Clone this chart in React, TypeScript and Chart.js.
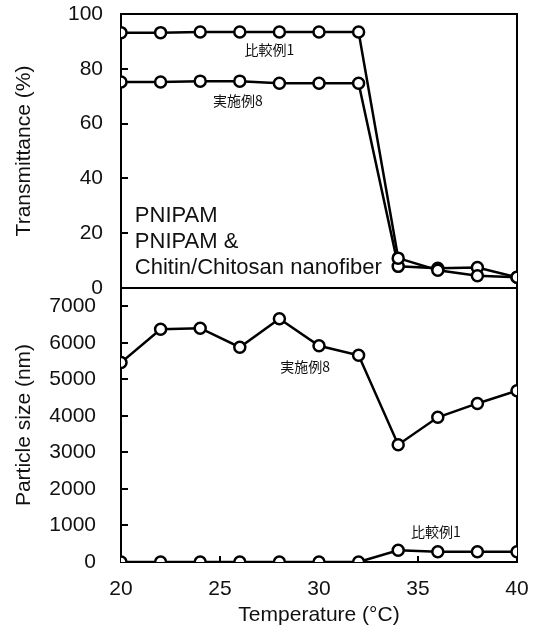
import React, { useEffect, useRef } from 'react';
import { Chart, registerables } from 'chart.js';

Chart.register(...registerables);

// ---- data ----
const temperatures = [20, 22, 24, 26, 28, 30, 32, 34, 36, 38, 40];
const transComparative1 = [93.2, 93.2, 93.4, 93.4, 93.4, 93.4, 93.4, 10.9, 6.5, 4.5, 3.9];
const transExample8 = [75.2, 75.2, 75.5, 75.5, 74.7, 74.7, 74.7, 7.9, 7.2, 7.5, 3.9];
const sizeExample8 = [5460, 6370, 6400, 5880, 6660, 5920, 5660, 3210, 3960, 4340, 4690];
const sizeComparative1 = [0, 0, 0, 0, 0, 0, 0, 320, 280, 280, 280];

const xTickValues = [20, 25, 30, 35, 40];
const transTickValues = [0, 20, 40, 60, 80, 100];
const sizeTickValues = [0, 1000, 2000, 3000, 4000, 5000, 6000, 7000];

const legendLines = ['PNIPAM', 'PNIPAM &', 'Chitin/Chitosan nanofiber'];
const nameComparative = '比較例1';
const nameExample = '実施例8';

// text annotations anchored in data space
const seriesLabels = [
  { text: nameComparative, axis: 'yT', x: 27.5, y: 87 },
  { text: nameExample, axis: 'yT', x: 25.9, y: 68.2 },
  { text: nameExample, axis: 'yB', x: 29.3, y: 5350 },
  { text: nameComparative, axis: 'yB', x: 35.9, y: 830 },
];
const legendAnchor = { x: 20.7, y: 26.3 };

const FONT = '"Liberation Sans", Arial, Helvetica, sans-serif';
const CJK = '"Noto Sans CJK JP", "Noto Sans CJK SC", sans-serif';
const INK = '#111';

const toPoints = (ys: number[]) => temperatures.map((t, i) => ({ x: t, y: ys[i] }));

const lineStyle = {
  borderColor: '#000',
  borderWidth: 2.5,
  pointRadius: 5.5,
  pointBorderWidth: 2.5,
  pointBackgroundColor: '#fff',
  pointBorderColor: '#000',
  tension: 0,
  xAxisID: 'x',
};

const zeroPad = (s: any) => {
  s.paddingTop = 0;
  s.paddingBottom = 0;
  s.paddingLeft = 0;
  s.paddingRight = 0;
};

const framePlugin = {
  id: 'frame',
  beforeDatasetsDraw(chart: any) {
    const { ctx, chartArea: a, scales } = chart;
    const yT = scales.yT;
    const yB = scales.yB;
    const xs = scales.x;
    ctx.save();
    ctx.strokeStyle = '#000';
    ctx.lineWidth = 2;
    ctx.strokeRect(a.left, a.top, a.right - a.left, a.bottom - a.top);
    ctx.beginPath();
    ctx.moveTo(a.left, yT.bottom);
    ctx.lineTo(a.right, yT.bottom);
    ctx.stroke();
    ctx.beginPath();
    for (const s of [yT, yB]) {
      for (const t of s.ticks) {
        const py = Math.round(s.getPixelForValue(t.value));
        ctx.moveTo(a.left, py);
        ctx.lineTo(a.left + 7, py);
      }
    }
    for (const t of xs.ticks) {
      const px = Math.round(xs.getPixelForValue(t.value));
      ctx.moveTo(px, a.bottom);
      ctx.lineTo(px, a.bottom - 6);
    }
    ctx.stroke();
    ctx.restore();
  },
  afterDatasetsDraw(chart: any) {
    const { ctx, scales } = chart;
    const xs = scales.x;
    ctx.save();
    ctx.fillStyle = INK;
    ctx.textAlign = 'center';
    ctx.textBaseline = 'middle';
    ctx.font = `14px ${CJK}`;
    for (const l of seriesLabels) {
      ctx.fillText(l.text, xs.getPixelForValue(l.x), scales[l.axis].getPixelForValue(l.y));
    }
    ctx.textAlign = 'left';
    ctx.font = `22px ${FONT}`;
    const lx = xs.getPixelForValue(legendAnchor.x);
    const ly = scales.yT.getPixelForValue(legendAnchor.y);
    legendLines.forEach((line, i) => ctx.fillText(line, lx, ly + i * 26));
    ctx.restore();
  },
};

export default function App() {
  const ref = useRef<HTMLCanvasElement | null>(null);

  useEffect(() => {
    if (!ref.current) return;
    const tickFont = { family: FONT, size: 21 };
    const plain = (v: any) => String(v);
    const chart = new Chart(ref.current, {
      type: 'line',
      data: {
        datasets: [
          { ...lineStyle, label: nameComparative, yAxisID: 'yT', data: toPoints(transComparative1) },
          { ...lineStyle, label: nameExample, yAxisID: 'yT', data: toPoints(transExample8) },
          { ...lineStyle, label: nameExample, yAxisID: 'yB', data: toPoints(sizeExample8) },
          { ...lineStyle, label: nameComparative, yAxisID: 'yB', data: toPoints(sizeComparative1) },
        ],
      },
      options: {
        responsive: false,
        animation: false,
        layout: { padding: { top: 14, right: 17, left: 0, bottom: 0 } },
        plugins: { legend: { display: false }, tooltip: { enabled: false } },
        scales: {
          x: {
            type: 'linear',
            position: 'bottom',
            min: 20,
            max: 40,
            grid: { display: false, drawTicks: false },
            border: { display: false },
            ticks: { font: tickFont, color: INK, padding: 15, maxRotation: 0, callback: plain },
            afterBuildTicks: (s: any) => { s.ticks = xTickValues.map((v) => ({ value: v })); },
            afterFit: (s: any) => { s.height = 73; zeroPad(s); },
            title: {
              display: true,
              text: 'Temperature (°C)',
              font: { family: FONT, size: 21 },
              color: INK,
              padding: { top: 0, bottom: 7 },
            },
          },
          yB: {
            type: 'linear',
            position: 'left',
            stack: 'v',
            stackWeight: 1,
            min: 0,
            max: 7500,
            grid: { display: false, drawTicks: false },
            border: { display: false },
            ticks: { font: tickFont, color: INK, padding: 25, autoSkip: false, callback: plain },
            afterBuildTicks: (s: any) => { s.ticks = sizeTickValues.map((v) => ({ value: v })); },
            afterFit: (s: any) => { s.width = 121; zeroPad(s); },
            title: {
              display: true,
              text: 'Particle size (nm)',
              font: { family: FONT, size: 21 },
              color: INK,
              padding: { top: 12, bottom: 0 },
            },
          },
          yT: {
            type: 'linear',
            position: 'left',
            stack: 'v',
            stackWeight: 1,
            min: 0,
            max: 100,
            grid: { display: false, drawTicks: false },
            border: { display: false },
            ticks: { font: tickFont, color: INK, padding: 18, autoSkip: false, callback: plain },
            afterBuildTicks: (s: any) => { s.ticks = transTickValues.map((v) => ({ value: v })); },
            afterFit: (s: any) => { s.width = 121; zeroPad(s); },
            title: {
              display: true,
              text: 'Transmittance (%)',
              font: { family: FONT, size: 21 },
              color: INK,
              padding: { top: 12, bottom: 0 },
            },
          },
        },
      } as any,
      plugins: [framePlugin],
    });
    return () => chart.destroy();
  }, []);

  return (
    <div style={{ position: 'absolute', left: 0, top: 0, width: 534, height: 635, background: '#fff' }}>
      <canvas ref={ref} width={534} height={635} style={{ display: 'block' }} />
    </div>
  );
}
